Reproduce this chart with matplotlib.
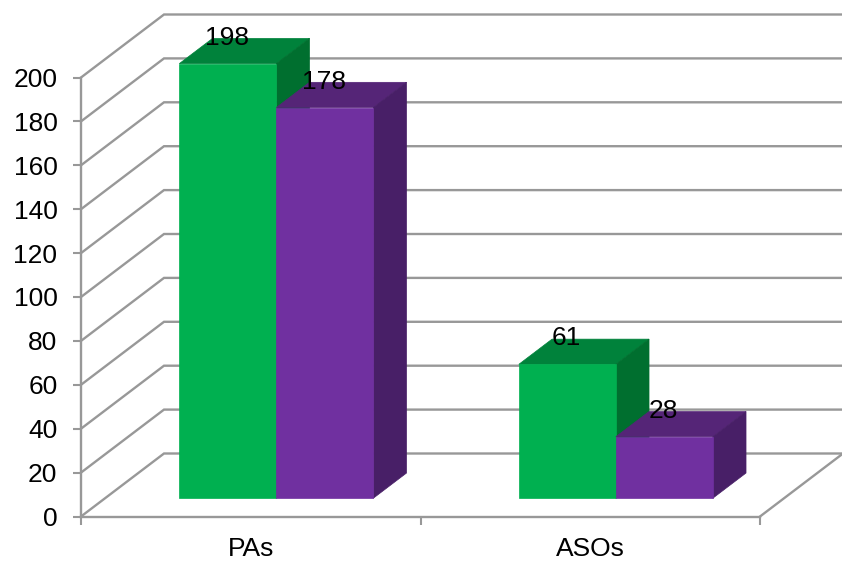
import matplotlib
matplotlib.use("Agg")
import matplotlib.pyplot as plt
from matplotlib.patches import Polygon
from matplotlib.ticker import FixedLocator, NullFormatter

plt.rcParams['font.family'] = ['Liberation Sans', 'DejaVu Sans']

categories = ["PAs", "ASOs"]
series_green = [198, 61]
series_purple = [178, 28]
y_ticks = [0, 20, 40, 60, 80, 100, 120, 140, 160, 180, 200]

FACES_GREEN = ("#00B050", "#00823B", "#006F2F")
FACES_PURPLE = ("#7030A0", "#552577", "#481F67")
GRID = "#989898"
TEXT = "#000000"

W, H = 842, 561
X0, X1, Y0, Y1 = 81, 760, 516.5, 77.5

# Oblique projection: depth 0 is the front plane, depth 1 the back wall
UNIT_X = (X1 - X0) / 2
DEPTH_X = 83 / UNIT_X
DEPTH_Y = 63 / ((Y0 - Y1) / 200)
BAR_WIDTH = 97 / UNIT_X
BAR_SHIFT = 1.5 / UNIT_X
BAR_D0, BAR_D1 = 0.29, 0.69


def project(x, y, d):
    return x + d * DEPTH_X, y + d * DEPTH_Y


fig = plt.figure(figsize=(W / 100, H / 100), dpi=100, facecolor="white")
ax = fig.add_axes([X0 / W, 1 - Y0 / H, (X1 - X0) / W, (Y0 - Y1) / H])
ax.set_xlim(0, len(categories))
ax.set_ylim(0, 200)
ax.patch.set_visible(False)

for side in ("top", "right"):
    ax.spines[side].set_visible(False)
for side in ("left", "bottom"):
    ax.spines[side].set_color(GRID)
    ax.spines[side].set_linewidth(1.7)
    ax.spines[side].set_zorder(2)

ax.yaxis.set_major_locator(FixedLocator(y_ticks))
ax.xaxis.set_major_locator(FixedLocator(range(len(categories) + 1)))
ax.xaxis.set_major_formatter(NullFormatter())
ax.tick_params(axis="y", length=6, width=1.5, color=GRID, labelsize=19,
               labelcolor=TEXT, pad=11)
ax.tick_params(axis="x", length=6, width=1.5, color=GRID)

# Wall gridlines running from the axis to the back plane, then to the right
for v in y_ticks:
    pts = [project(0, v, 0), project(0, v, 1), project(len(categories), v, 1)]
    ax.plot(*zip(*pts), color=GRID, lw=1.7, clip_on=False, zorder=1,
            solid_joinstyle="miter")

# Right edge of the floor
pts = [project(len(categories), 0, 0), project(len(categories), 0, 1)]
ax.plot(*zip(*pts), color=GRID, lw=1.7, clip_on=False, zorder=1)


def draw_bar(x_left, value, faces, z):
    x_right = x_left + BAR_WIDTH
    front = [project(x_left, 0, BAR_D0), project(x_right, 0, BAR_D0),
             project(x_right, value, BAR_D0), project(x_left, value, BAR_D0)]
    top = [project(x_left, value, BAR_D0), project(x_right, value, BAR_D0),
           project(x_right, value, BAR_D1), project(x_left, value, BAR_D1)]
    right = [project(x_right, 0, BAR_D0), project(x_right, 0, BAR_D1),
             project(x_right, value, BAR_D1), project(x_right, value, BAR_D0)]
    front_color, top_color, right_color = faces
    # Front face last so its edges stay clean; a hairline edge closes the seams
    for poly, color in ((top, top_color), (right, right_color), (front, front_color)):
        ax.add_patch(Polygon(poly, closed=True, facecolor=color, edgecolor=color,
                             lw=0.5, joinstyle="miter", clip_on=False, zorder=z))
    anchor = project(x_left + BAR_WIDTH / 2, value, BAR_D0)
    ax.annotate(str(value), xy=anchor, xytext=(-0.5, 18.7), textcoords="offset points",
                ha="center", va="center", fontsize=19, color=TEXT,
                annotation_clip=False, zorder=10)


for i, name in enumerate(categories):
    centre = i + 0.5
    draw_bar(centre - BAR_WIDTH + BAR_SHIFT, series_green[i], FACES_GREEN, 3 + i)
    draw_bar(centre + BAR_SHIFT, series_purple[i], FACES_PURPLE, 3.5 + i)
    ax.annotate(name, xy=(centre, 0), xytext=(0, -23.5), textcoords="offset points",
                ha="center", va="center", fontsize=19, color=TEXT,
                annotation_clip=False)

fig.savefig("out.png", dpi=100, facecolor="white")
